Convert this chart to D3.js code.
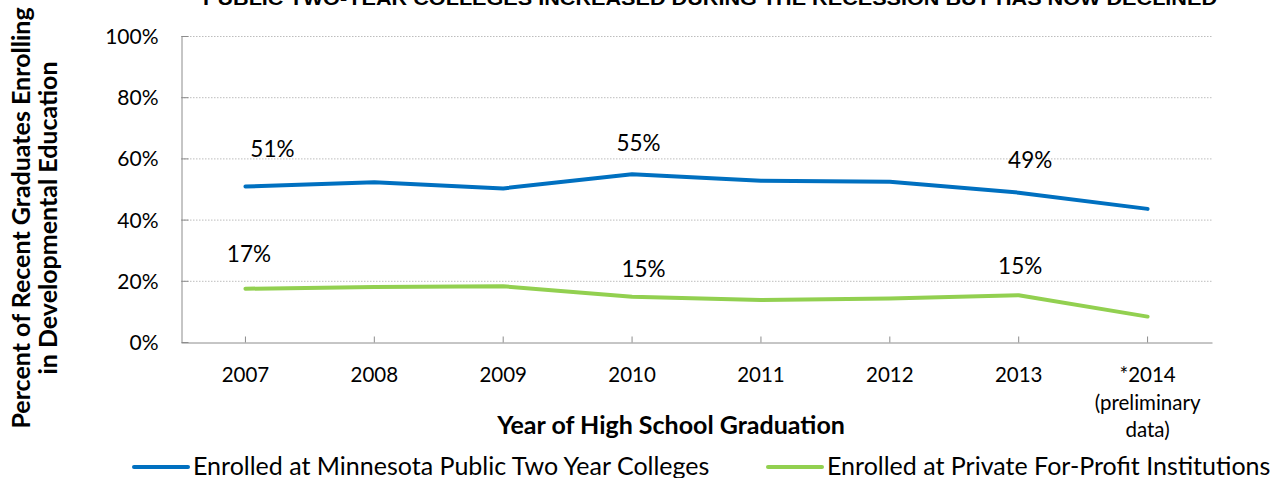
<!DOCTYPE html>
<html>
<head>
<meta charset="utf-8">
<script src="https://cdn.jsdelivr.net/npm/d3@7"></script>
<style>
  html, body { margin: 0; padding: 0; background: #fff; }
  svg { display: block; }
</style>
</head>
<body>
<svg id="chart" width="1271" height="478"></svg>
<script>
// ---- data ----
const categories = ["2007", "2008", "2009", "2010", "2011", "2012", "2013", "*2014"];
const categorySubLabels = ["", "", "", "", "", "", "", "(preliminary|data)"];
const publicTwoYear = [50.8, 52.2, 50.2, 54.8, 52.7, 52.4, 48.8, 43.5];
const privateForProfit = [17.4, 18.0, 18.2, 14.8, 13.7, 14.2, 15.3, 8.3];
const yTicks = [0, 20, 40, 60, 80, 100];
const seriesNames = ["Enrolled at Minnesota Public Two Year Colleges", "Enrolled at Private For-Profit Institutions"];
// data labels: series index, category index, text
const dataLabels = [
  { s: 0, i: 0, text: "51%" }, { s: 0, i: 3, text: "55%" }, { s: 0, i: 6, text: "49%" },
  { s: 1, i: 0, text: "17%" }, { s: 1, i: 3, text: "15%" }, { s: 1, i: 6, text: "15%" }
];
const titleText = "PUBLIC TWO-YEAR COLLEGES INCREASED DURING THE RECESSION BUT HAS NOW DECLINED";
const yTitleLines = ["Percent of Recent Graduates Enrolling", "in Developmental Education"];
const xTitleText = "Year of High School Graduation";

// ---- style ----
const colors = ["#0070C0", "#92D050"];
const labelNudge = [[27, -37.5], [6.5, -31.5], [11.5, -32.5], [3.5, -35], [11.5, -27.5], [1.5, -29]];
const font = "Lato, 'Open Sans', sans-serif";

const svg = d3.select("#chart");
const m = { left: 181, right: 1212, top: 36, bottom: 342 };

const x = d3.scaleBand().domain(categories).range([m.left, m.right]).padding(0);
const y = d3.scaleLinear().domain([0, 100]).range([m.bottom, m.top]);
const cx = c => x(c) + x.bandwidth() / 2;

// gridlines
svg.append("g").selectAll("line").data(yTicks.filter(d => d > 0)).join("line")
  .attr("x1", m.left).attr("x2", m.right)
  .attr("y1", d => y(d) + 0.5).attr("y2", d => y(d) + 0.5)
  .attr("stroke", "#bdbdbd").attr("stroke-width", 1).attr("stroke-dasharray", "1.5,1.5");

// y axis
const yAxis = d3.axisLeft(y).tickValues(yTicks).tickFormat(d => d + "%").tickSizeInner(-7).tickSizeOuter(0).tickPadding(23);
const gy = svg.append("g").attr("transform", `translate(${m.left + 0.5},0)`).call(yAxis);
gy.select(".domain").attr("stroke", "#8c8c8c");
gy.selectAll(".tick line").attr("stroke", "#8c8c8c");
gy.selectAll(".tick text").attr("font-family", font).attr("font-size", 21).attr("fill", "#000").attr("dy", "0.36em");

// x axis
const xAxis = d3.axisBottom(x).tickSizeInner(-6).tickSizeOuter(0).tickFormat(d => d);
const gx = svg.append("g").attr("transform", `translate(0,${m.bottom + 0.5})`).call(xAxis);
gx.select(".domain").attr("stroke", "#8c8c8c");
gx.selectAll(".tick line").attr("stroke", "#8c8c8c");
gx.selectAll(".tick text").attr("font-family", font).attr("font-size", 20.5).attr("fill", "#000")
  .attr("y", 39.5).attr("dy", 0);
gx.selectAll(".tick").each(function (d, i) {
  const sub = categorySubLabels[i];
  if (!sub) return;
  sub.split("|").forEach((t, k) => {
    d3.select(this).append("text").attr("y", 39.5 + 27.5 * (k + 1))
      .attr("text-anchor", "middle").attr("font-family", font).attr("font-size", 20.5).attr("fill", "#000").text(t);
  });
});

// lines
const line = d3.line().x((d, i) => cx(categories[i])).y(d => y(d));
[publicTwoYear, privateForProfit].forEach((s, k) => {
  svg.append("path").datum(s).attr("d", line).attr("fill", "none")
    .attr("stroke", colors[k]).attr("stroke-width", 4).attr("stroke-linejoin", "round").attr("stroke-linecap", "round");
});

// data labels
const seriesArr = [publicTwoYear, privateForProfit];
svg.append("g").selectAll("text").data(dataLabels).join("text")
  .attr("x", (d, j) => cx(categories[d.i]) + labelNudge[j][0])
  .attr("y", (d, j) => y(seriesArr[d.s][d.i]) + labelNudge[j][1])
  .attr("dy", "0.36em")
  .attr("text-anchor", "middle").attr("font-family", font).attr("font-size", 22.5).attr("fill", "#000")
  .text(d => d.text);

// title (partially clipped at top, as in the reference)
svg.append("text").attr("x", 710).attr("y", 5).attr("text-anchor", "middle")
  .attr("font-family", "'Liberation Sans', Arial, sans-serif").attr("font-weight", "bold").attr("font-size", 18)
  .attr("textLength", 1014).attr("lengthAdjust", "spacingAndGlyphs").text(titleText);

// y title
yTitleLines.forEach((t, k) => {
  svg.append("text").attr("transform", `translate(${30 + 27 * k},218) rotate(-90)`)
    .attr("text-anchor", "middle").attr("font-family", font).attr("font-weight", "bold").attr("font-size", 25)
    .attr("fill", "#000").text(t);
});

// x title
svg.append("text").attr("x", 671).attr("y", 434).attr("text-anchor", "middle")
  .attr("font-family", font).attr("font-weight", "bold").attr("font-size", 25).attr("fill", "#000").text(xTitleText);

// legend
const legendX = [134, 768];
seriesNames.forEach((n, k) => {
  const g = svg.append("g").attr("transform", `translate(${legendX[k]},467)`);
  g.append("line").attr("x1", 0).attr("x2", 54).attr("y1", 0).attr("y2", 0)
    .attr("stroke", colors[k]).attr("stroke-width", 4).attr("stroke-linecap", "round");
  g.append("text").attr("x", 59).attr("y", 7.5).attr("font-family", font).attr("font-size", 25).attr("fill", "#000").text(n);
});
</script>
</body>
</html>
